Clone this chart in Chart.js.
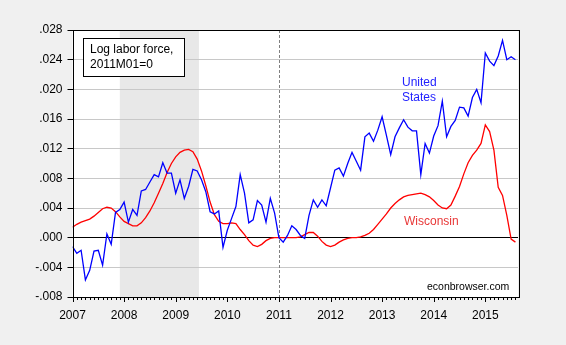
<!DOCTYPE html>
<html>
<head>
<meta charset="utf-8">
<script src="https://cdn.jsdelivr.net/npm/chart.js@4.4.0/dist/chart.umd.min.js"></script>
<style>
  html, body { margin: 0; padding: 0; background: #f0f0f0; }
  #chart { display: block; }
</style>
</head>
<body>
<canvas id="chart" width="566" height="345"></canvas>
<script>
// monthly observations, 2007M01 .. 2015M08 (index 0 = 2007M01)
const yearLabels = ["2007", "2008", "2009", "2010", "2011", "2012", "2013", "2014", "2015"];

const usValues = [
  -0.0012, -0.0021, -0.0017, -0.0057, -0.0044, -0.0018, -0.0017, -0.0037, 0.0005, -0.0009, 0.0034, 0.0038,
  0.0048, 0.0021, 0.0038, 0.0030, 0.0063, 0.0065, 0.0075, 0.0085, 0.0082, 0.0101, 0.0087, 0.0087,
  0.0060, 0.0078, 0.0053, 0.0069, 0.0092, 0.0090, 0.0078, 0.0062, 0.0035, 0.0032, 0.0036, -0.0013,
  0.0010, 0.0026, 0.0042, 0.0085, 0.0060, 0.0020, 0.0024, 0.0050, 0.0044, 0.0021, 0.0053, 0.0033,
  0.0000, -0.0006, 0.0003, 0.0016, 0.0011, 0.0003, -0.0001, 0.0030, 0.0051, 0.0041, 0.0051, 0.0043,
  0.0067, 0.0091, 0.0094, 0.0083, 0.0100, 0.0115, 0.0103, 0.0091, 0.0136, 0.0141, 0.0130, 0.0145,
  0.0163, 0.0138, 0.0112, 0.0136, 0.0148, 0.0159, 0.0149, 0.0144, 0.0144, 0.0085, 0.0127, 0.0114,
  0.0137, 0.0151, 0.0184, 0.0136, 0.0150, 0.0158, 0.0176, 0.0175, 0.0164, 0.0189, 0.0200, 0.0182,
  0.0249, 0.0238, 0.0232, 0.0245, 0.0266, 0.0240, 0.0244, 0.0240
];

const wiValues = [
  0.0014, 0.0018, 0.0021, 0.0023, 0.0025, 0.0029, 0.0034, 0.0039, 0.0041, 0.0040, 0.0035, 0.0028,
  0.0022, 0.0019, 0.0016, 0.0016, 0.0020, 0.0027, 0.0036, 0.0047, 0.0060, 0.0073, 0.0088, 0.0100,
  0.0109, 0.0115, 0.0118, 0.0119, 0.0116, 0.0106, 0.0090, 0.0070, 0.0048, 0.0031, 0.0022, 0.0019,
  0.0019, 0.0020, 0.0019, 0.0011, 0.0004, -0.0004, -0.0010, -0.0012, -0.0009, -0.0004, -0.0001, 0.0000,
  0.0000, 0.0000, 0.0000, 0.0000, 0.0000, 0.0001, 0.0004, 0.0007, 0.0007, 0.0002, -0.0005, -0.0010,
  -0.0012, -0.0010, -0.0006, -0.0003, -0.0001, 0.0000, 0.0000, 0.0001, 0.0003, 0.0006, 0.0011, 0.0018,
  0.0025, 0.0032, 0.0040, 0.0046, 0.0051, 0.0055, 0.0057, 0.0058, 0.0059, 0.0060, 0.0058, 0.0055,
  0.0050, 0.0044, 0.0040, 0.0039, 0.0044, 0.0056, 0.0069, 0.0086, 0.0101, 0.0111, 0.0118, 0.0127,
  0.0152, 0.0143, 0.0118, 0.0068, 0.0057, 0.0030, -0.0002, -0.0006
];

const recession = [11, 29.4];   // 2007M12 .. 2009M06
const baseMonth = 48;           // 2011M01
const yMin = -0.008, yMax = 0.028, yStep = 0.004;

const FONT = "'Liberation Sans', Arial, sans-serif";

const usPoints = usValues.map((v, i) => ({ x: i, y: v }));
const wiPoints = wiValues.map((v, i) => ({ x: i, y: v }));

// background, plot area, recession band, month ticks, dashed line, frame, notes
const decor = {
  id: "decor",
  beforeDraw(chart) {
    const { ctx, chartArea: a, scales } = chart;
    ctx.save();
    ctx.fillStyle = "#f0f0f0";
    ctx.fillRect(0, 0, chart.width, chart.height);
    ctx.fillStyle = "#ffffff";
    ctx.fillRect(a.left, a.top, a.right - a.left, a.bottom - a.top);
    const x0 = scales.x.getPixelForValue(recession[0]);
    const x1 = scales.x.getPixelForValue(recession[1]);
    ctx.fillStyle = "#e8e8e8";
    ctx.fillRect(x0, a.top, x1 - x0, a.bottom - a.top);
    ctx.restore();
  },
  beforeDatasetsDraw(chart) {
    const { ctx, chartArea: a, scales } = chart;
    ctx.save();
    const x = Math.round(scales.x.getPixelForValue(baseMonth)) + 0.5;
    ctx.strokeStyle = "#808080";
    ctx.lineWidth = 1;
    ctx.setLineDash([3, 2]);
    ctx.beginPath();
    ctx.moveTo(x, a.top);
    ctx.lineTo(x, a.bottom);
    ctx.stroke();
    ctx.restore();
  },
  afterDraw(chart) {
    const { ctx, chartArea: a, scales } = chart;
    ctx.save();
    // frame
    ctx.strokeStyle = "#000000";
    ctx.lineWidth = 1;
    ctx.strokeRect(Math.round(a.left) + 0.5, Math.round(a.top) + 0.5,
                   Math.round(a.right - a.left), Math.round(a.bottom - a.top));
    // month tick marks
    ctx.beginPath();
    for (let i = 0; i < usValues.length; i++) {
      const x = Math.round(scales.x.getPixelForValue(i)) + 0.5;
      const len = i % 12 === 0 ? 5 : 3;
      ctx.moveTo(x, a.bottom);
      ctx.lineTo(x, a.bottom + len);
    }
    ctx.stroke();

    // note box
    ctx.fillStyle = "#ffffff";
    ctx.fillRect(83.5, 38.5, 101, 38);
    ctx.strokeRect(83.5, 38.5, 101, 38);
    ctx.fillStyle = "#000000";
    ctx.font = "12px " + FONT;
    ctx.textBaseline = "middle";
    ctx.textAlign = "left";
    ctx.fillText("Log labor force,", 90, 50);
    ctx.fillText("2011M01=0", 90, 65);

    ctx.fillStyle = "#2222ff";
    ctx.fillText("United", 402, 83);
    ctx.fillText("States", 402, 98);

    ctx.fillStyle = "#e83838";
    ctx.fillText("Wisconsin", 404, 222);

    ctx.fillStyle = "#000000";
    ctx.font = "10.5px " + FONT;
    ctx.fillText("econbrowser.com", 427, 287);
    ctx.restore();
  }
};

new Chart(document.getElementById("chart"), {
  type: "line",
  data: {
    datasets: [
      { label: "United States", data: usPoints, borderColor: "#0000ff", borderWidth: 1.3,
        pointRadius: 0, tension: 0, fill: false },
      { label: "Wisconsin", data: wiPoints, borderColor: "#ff0000", borderWidth: 1.3,
        pointRadius: 0, tension: 0, fill: false }
    ]
  },
  options: {
    responsive: false,
    animation: false,
    layout: { padding: { top: 30, right: 48, left: 0, bottom: 0 } },
    plugins: { legend: { display: false }, tooltip: { enabled: false } },
    scales: {
      x: {
        type: "linear",
        min: 0,
        max: 103.6,
        afterFit(scale) { scale.height = 48; },
        border: { display: false },
        grid: { drawOnChartArea: false, tickLength: 5, tickColor: "rgba(0,0,0,0)" },
        ticks: {
          stepSize: 1,
          autoSkip: false,
          maxRotation: 0,
          padding: 6,
          color: "#000000",
          font: { family: FONT, size: 12 },
          callback(value) {
            return Number.isInteger(value) && value % 12 === 0 ? yearLabels[value / 12] : "";
          }
        }
      },
      y: {
        min: yMin,
        max: yMax,
        afterFit(scale) { scale.width = 72.5; },
        border: { display: false },
        grid: {
          color(c) { return Math.abs(c.tick.value) < 1e-9 ? "#000000" : "#c8c8c8"; },
          tickColor: "#000000",
          tickLength: 5,
          lineWidth: 1
        },
        ticks: {
          stepSize: yStep,
          padding: 5,
          color: "#000000",
          font: { family: FONT, size: 12 },
          callback(value) { return value.toFixed(3).replace("0.", "."); }
        }
      }
    }
  },
  plugins: [decor]
});
</script>
</body>
</html>
